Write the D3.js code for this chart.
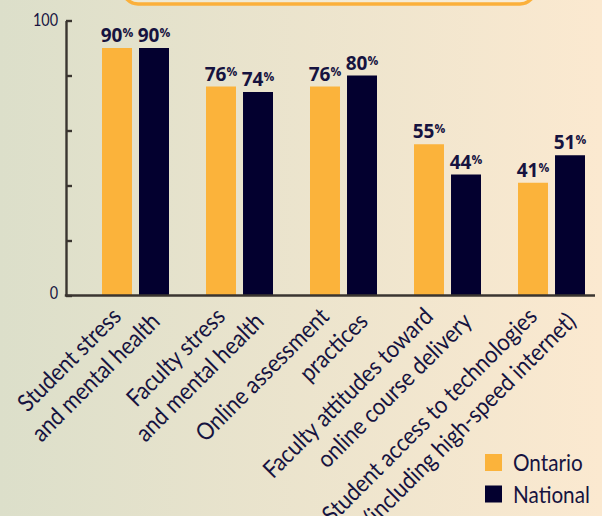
<!DOCTYPE html>
<html>
<head>
<meta charset="utf-8">
<script src="https://cdn.jsdelivr.net/npm/d3@7/dist/d3.min.js"></script>
<style>
  html, body { margin: 0; padding: 0; overflow: hidden; }
  svg { display: block; }
</style>
</head>
<body>
<script>
const categories = [
  ["Student stress", "and mental health"],
  ["Faculty stress", "and mental health"],
  ["Online assessment", "practices"],
  ["Faculty attitudes toward", "online course delivery"],
  ["Student access to technologies", "(including high-speed internet)"]
];
const seriesNames = ["Ontario", "National"];
const ontario = [90, 76, 76, 55, 41];
const national = [90, 74, 80, 44, 51];
const yTicks = [0, 20, 40, 60, 80, 100];
const yTickLabels = ["0", "", "", "", "", "100"];

const W = 602, H = 516;
const colors = { Ontario: "#fbb33b", National: "#03002f" };
const textColor = "#16133f";
const font = "Lato, sans-serif";
const sx = 0.9;   // horizontal condensing of label text

const svg = d3.select("body").append("svg").attr("width", W).attr("height", H);

// background gradient
const defs = svg.append("defs");
const grad = defs.append("linearGradient").attr("id", "bg").attr("x1", "0").attr("x2", "1").attr("y1", "0").attr("y2", "0");
grad.append("stop").attr("offset", "0%").attr("stop-color", "#dcdfca");
grad.append("stop").attr("offset", "100%").attr("stop-color", "#fbe9d0");
svg.append("rect").attr("width", W).attr("height", H).attr("fill", "url(#bg)");

// top box (partially out of view)
svg.append("rect").attr("x", 123).attr("y", -40).attr("width", 412).attr("height", 44)
  .attr("rx", 15).attr("fill", "#fbf4e2").attr("fill-opacity", 0.45)
  .attr("stroke", "#fbb03b").attr("stroke-width", 3.5);

const axisX = 66, yTop = 20.5, yBot = 295.5;
const y = d3.scaleLinear().domain([0, 100]).range([yBot, yTop]);
const x0 = d3.scaleBand().domain(d3.range(categories.length)).range([83.5, 603.5]).padding(0);
const x1 = d3.scaleBand().domain(seriesNames).range([18.5, 85.5]).paddingInner(0.19).paddingOuter(0);

const rows = categories.map((c, i) => ({ i, values: [
  { name: "Ontario", v: ontario[i] }, { name: "National", v: national[i] }
]}));

// bars
const g = svg.append("g");
const groups = g.selectAll("g.grp").data(rows).join("g")
  .attr("transform", d => `translate(${x0(d.i)},0)`);
groups.selectAll("rect").data(d => d.values).join("rect")
  .attr("x", d => x1(d.name))
  .attr("width", x1.bandwidth())
  .attr("y", d => y(d.v))
  .attr("height", d => y(0) - y(d.v))
  .attr("fill", d => colors[d.name]);

// value labels
const vl = groups.selectAll("text.val").data(d => d.values).join("text")
  .attr("class", "val")
  .attr("x", d => x1(d.name) + x1.bandwidth() / 2)
  .attr("y", d => y(d.v) - 6)
  .attr("text-anchor", "middle")
  .attr("fill", textColor)
  .style("font-family", "'Open Sans', sans-serif")
  .style("font-weight", 700);
vl.append("tspan").style("font-size", "19px").text(d => d.v);
vl.append("tspan").style("font-size", "12px").attr("dy", "-5").text("%");

// y axis
const yAxis = d3.axisLeft(y).tickValues(yTicks)
  .tickSizeInner(-6).tickSizeOuter(0).tickPadding(8)
  .tickFormat((d, i) => yTickLabels[i]);
const ya = svg.append("g").attr("transform", `translate(${axisX},0)`).call(yAxis);
ya.select(".domain").attr("stroke", "#3a3530").attr("stroke-width", 2.4);
ya.selectAll(".tick line").attr("stroke", "#3a3530").attr("stroke-width", 2.4);
ya.selectAll(".tick text").attr("fill", textColor)
  .style("font-family", font).style("font-size", "18px")
  .attr("x", -8 / 0.8)
  .attr("transform", "scale(0.8,1)")
  .attr("dy", (d) => d === 0 ? "0.15em" : "0.3em");

// x axis baseline
svg.append("line").attr("x1", axisX - 1.2).attr("x2", 595)
  .attr("y1", y(0)).attr("y2", y(0))
  .attr("stroke", "#3a3530").attr("stroke-width", 2.6);

// category labels
const cl = svg.append("g").selectAll("text").data(categories).join("text")
  .attr("transform", (d, i) => `translate(${x0(i) + x0.bandwidth() / 2 - 13},318) rotate(-45) scale(${sx},1)`)
  .attr("text-anchor", "end")
  .attr("fill", textColor)
  .style("font-family", font)
  .style("font-size", "24px");
cl.append("tspan").attr("x", 0).attr("y", 0).text(d => d[0]);
cl.append("tspan").attr("x", 24 / sx).attr("y", 31).text(d => d[1]);

// legend
const leg = svg.append("g").selectAll("g").data(seriesNames).join("g")
  .attr("transform", (d, i) => `translate(485,${454 + i * 31.5})`);
leg.append("rect").attr("width", 17).attr("height", 17).attr("fill", d => colors[d]);
leg.append("text").attr("transform", `translate(28,17) scale(${sx},1)`).attr("fill", textColor)
  .style("font-family", font).style("font-size", "23px").text(d => d);
</script>
</body>
</html>
